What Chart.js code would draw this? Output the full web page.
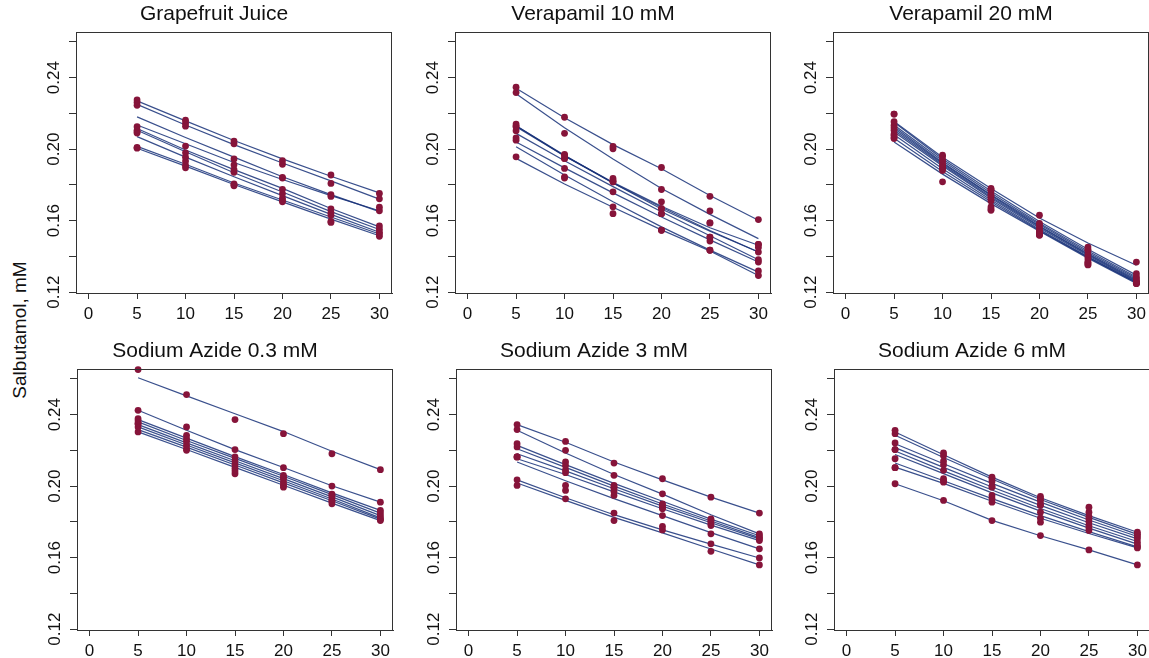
<!DOCTYPE html>
<html>
<head>
<meta charset="utf-8">
<script src="https://cdn.jsdelivr.net/npm/chart.js@4.4.0/dist/chart.umd.min.js"></script>
<style>
  body { margin: 0; background: #fff; width: 1149px; height: 658px; overflow: hidden; position: relative;
         font-family: "Liberation Sans", Arial, sans-serif; }
  canvas { position: absolute; }
  #ytitle { position: absolute; left: 20px; top: 330px; font-size: 19px; color: #111; white-space: nowrap;
            transform: translate(-50%, -50%) rotate(-90deg); }
</style>
</head>
<body>
<div id="ytitle">Salbutamol, mM</div>
<script>
'use strict';

// sampling times (x) and axis ticks
var times = [5, 10, 15, 20, 25, 30];
var xTicks = [0, 5, 10, 15, 20, 25, 30];
var yTicks = [0.12, 0.14, 0.16, 0.18, 0.20, 0.22, 0.24, 0.26];
var yLabels = ['0.12', '0.16', '0.20', '0.24'];
var titles = ['Grapefruit Juice', 'Verapamil 10 mM', 'Verapamil 20 mM',
              'Sodium Azide 0.3 mM', 'Sodium Azide 3 mM', 'Sodium Azide 6 mM'];

// Grapefruit Juice: fitted curves and observed points
var gjFit = [
  [0.227, 0.2158, 0.2048, 0.1945, 0.1848, 0.1755],
  [0.225, 0.2135, 0.2025, 0.1922, 0.1822, 0.172],
  [0.218, 0.2065, 0.1955, 0.1845, 0.1745, 0.165],
  [0.2135, 0.203, 0.1925, 0.183, 0.174, 0.1655],
  [0.2115, 0.1995, 0.1885, 0.178, 0.1668, 0.1565],
  [0.2105, 0.1985, 0.1868, 0.176, 0.165, 0.155],
  [0.207, 0.1955, 0.1845, 0.174, 0.1635, 0.1535],
  [0.2015, 0.1915, 0.181, 0.1715, 0.162, 0.1525],
  [0.2005, 0.1905, 0.1802, 0.1705, 0.1608, 0.1515]
];
var gjObs = [
  [0.2275, 0.2162, 0.2045, 0.1935, 0.1855, 0.1752],
  [0.226, 0.2145, 0.203, 0.1915, 0.1808, 0.1722],
  [0.2245, 0.2128, 0.1945, 0.1842, 0.1735, 0.1675],
  [0.2125, 0.2017, 0.1912, 0.1838, 0.1745, 0.1655],
  [0.2105, 0.1979, 0.1885, 0.1775, 0.1665, 0.157],
  [0.209, 0.1955, 0.187, 0.175, 0.1645, 0.1552],
  [0.2095, 0.1933, 0.1805, 0.1725, 0.163, 0.1535],
  [0.201, 0.191, 0.1795, 0.1712, 0.159, 0.1525],
  [0.2005, 0.1895, 0.18, 0.1705, 0.1595, 0.1512]
];

// Verapamil 10 mM
var v10Fit = [
  [0.234, 0.2175, 0.2025, 0.189, 0.174, 0.1602],
  [0.231, 0.212, 0.1945, 0.178, 0.1635, 0.1499],
  [0.213, 0.1965, 0.181, 0.1675, 0.1545, 0.1424],
  [0.2125, 0.1962, 0.1815, 0.168, 0.156, 0.1462],
  [0.2088, 0.1935, 0.179, 0.165, 0.1515, 0.1381],
  [0.204, 0.1895, 0.1755, 0.162, 0.1492, 0.1368],
  [0.2013, 0.1855, 0.1705, 0.1565, 0.1435, 0.1312],
  [0.1948, 0.1805, 0.1675, 0.1548, 0.143, 0.1293],
  [0.213, 0.1962, 0.181, 0.1665, 0.154, 0.1424]
];
var v10Obs = [
  [0.2346, 0.2178, 0.2015, 0.1897, 0.1736, 0.1606],
  [0.2316, 0.2088, 0.2002, 0.1774, 0.1654, 0.1467],
  [0.214, 0.1966, 0.1836, 0.1705, 0.1587, 0.1449],
  [0.2129, 0.1948, 0.1817, 0.1667, 0.1587, 0.1467],
  [0.2103, 0.1948, 0.1817, 0.1639, 0.1508, 0.1381],
  [0.2063, 0.1892, 0.1761, 0.1639, 0.1486, 0.1368],
  [0.205, 0.1845, 0.1677, 0.1546, 0.1434, 0.1318],
  [0.1957, 0.1838, 0.1639, 0.1546, 0.1434, 0.1293],
  [0.2125, 0.197, 0.1825, 0.1667, 0.1508, 0.1424]
];

// Verapamil 20 mM
var v20Fit = [
  [0.2155, 0.1955, 0.178, 0.1615, 0.1475, 0.135],
  [0.215, 0.1945, 0.1765, 0.1595, 0.144, 0.1295],
  [0.2135, 0.1935, 0.1755, 0.1585, 0.143, 0.1285],
  [0.2125, 0.1925, 0.1745, 0.1578, 0.1422, 0.1278],
  [0.2115, 0.192, 0.174, 0.157, 0.1415, 0.127],
  [0.2105, 0.1912, 0.1732, 0.1565, 0.141, 0.1265],
  [0.2095, 0.1905, 0.1725, 0.1558, 0.1405, 0.126],
  [0.208, 0.189, 0.1715, 0.155, 0.1398, 0.1255],
  [0.206, 0.1875, 0.1705, 0.1545, 0.1395, 0.1252],
  [0.204, 0.186, 0.1695, 0.154, 0.139, 0.1248]
];
var v20Obs = [
  [0.2196, 0.1958, 0.1775, 0.163, 0.144, 0.1368],
  [0.2196, 0.1966, 0.178, 0.1585, 0.1452, 0.1303],
  [0.2153, 0.194, 0.1765, 0.1575, 0.143, 0.1285],
  [0.2134, 0.193, 0.1745, 0.156, 0.141, 0.1275],
  [0.212, 0.1915, 0.1735, 0.1545, 0.1395, 0.1262],
  [0.2106, 0.1905, 0.1723, 0.1535, 0.138, 0.1255],
  [0.2085, 0.1895, 0.171, 0.1525, 0.1365, 0.125],
  [0.2078, 0.1892, 0.1677, 0.152, 0.1355, 0.1258],
  [0.2065, 0.1817, 0.1665, 0.1518, 0.1352, 0.1247],
  [0.2059, 0.188, 0.1658, 0.153, 0.1365, 0.125]
];

// Sodium Azide 0.3 mM
var sa03Fit = [
  [0.2606, 0.2505, 0.2405, 0.2305, 0.2195, 0.2092],
  [0.2424, 0.2312, 0.2204, 0.2104, 0.2002, 0.191],
  [0.2372, 0.2268, 0.2165, 0.2065, 0.1962, 0.1864],
  [0.2359, 0.2255, 0.2155, 0.2055, 0.1952, 0.1849],
  [0.2344, 0.2242, 0.2142, 0.2042, 0.194, 0.1835],
  [0.2331, 0.223, 0.213, 0.203, 0.1928, 0.1822],
  [0.2316, 0.2218, 0.2118, 0.2018, 0.1918, 0.1815],
  [0.2303, 0.2205, 0.2105, 0.2005, 0.1905, 0.1807]
];
var sa03Obs = [
  [0.2652, 0.2512, 0.2372, 0.2293, 0.2181, 0.2092],
  [0.2424, 0.2331, 0.2204, 0.2103, 0.2, 0.191],
  [0.2377, 0.2284, 0.2163, 0.206, 0.1948, 0.1864],
  [0.2364, 0.2265, 0.214, 0.205, 0.1955, 0.1849],
  [0.2349, 0.225, 0.212, 0.204, 0.1935, 0.1835],
  [0.2349, 0.2228, 0.21, 0.202, 0.192, 0.1822],
  [0.233, 0.221, 0.2085, 0.2005, 0.1915, 0.1815],
  [0.2303, 0.22, 0.2069, 0.1994, 0.1901, 0.1807]
];

// Sodium Azide 3 mM
var sa3Fit = [
  [0.2344, 0.2245, 0.2135, 0.2035, 0.1938, 0.1849],
  [0.2312, 0.2185, 0.2065, 0.1955, 0.184, 0.1733],
  [0.2228, 0.212, 0.2015, 0.1915, 0.1815, 0.1722],
  [0.2209, 0.2105, 0.2, 0.19, 0.1805, 0.1712],
  [0.2181, 0.2085, 0.1985, 0.1888, 0.1795, 0.1705],
  [0.2153, 0.2065, 0.1968, 0.1873, 0.1782, 0.1695],
  [0.2135, 0.203, 0.193, 0.1835, 0.174, 0.1649],
  [0.2035, 0.1935, 0.184, 0.1755, 0.1675, 0.1598],
  [0.2017, 0.192, 0.1825, 0.1738, 0.1648, 0.1559]
];
var sa3Obs = [
  [0.2344, 0.225, 0.2129, 0.2041, 0.1938, 0.1849],
  [0.2316, 0.22, 0.206, 0.1957, 0.1817, 0.1733],
  [0.2237, 0.2135, 0.2004, 0.1901, 0.181, 0.1722],
  [0.2219, 0.2115, 0.1995, 0.189, 0.18, 0.1712],
  [0.2163, 0.209, 0.1985, 0.188, 0.179, 0.1705],
  [0.2163, 0.2075, 0.197, 0.1873, 0.1779, 0.1695],
  [0.2163, 0.2004, 0.1948, 0.1835, 0.1733, 0.1649],
  [0.2035, 0.1976, 0.1849, 0.1774, 0.1677, 0.1598],
  [0.2004, 0.1929, 0.1807, 0.1755, 0.1635, 0.1559]
];

// Sodium Azide 6 mM
var sa6Fit = [
  [0.2303, 0.2175, 0.205, 0.1935, 0.1835, 0.1742],
  [0.2284, 0.216, 0.204, 0.1925, 0.1825, 0.173],
  [0.2237, 0.2125, 0.2015, 0.191, 0.181, 0.1718],
  [0.2215, 0.2105, 0.1995, 0.1892, 0.1795, 0.1705],
  [0.2196, 0.2085, 0.1978, 0.1875, 0.1778, 0.169],
  [0.2177, 0.207, 0.1962, 0.186, 0.1765, 0.1675],
  [0.2129, 0.203, 0.193, 0.1835, 0.1745, 0.166],
  [0.2106, 0.2015, 0.1915, 0.182, 0.1735, 0.1654],
  [0.2013, 0.1918, 0.1808, 0.1722, 0.1643, 0.1559]
];
var sa6Obs = [
  [0.2312, 0.2185, 0.205, 0.1942, 0.1882, 0.1742],
  [0.2293, 0.217, 0.204, 0.193, 0.1854, 0.173],
  [0.2241, 0.214, 0.2025, 0.192, 0.183, 0.1718],
  [0.2204, 0.212, 0.2, 0.19, 0.1817, 0.1705],
  [0.2204, 0.2088, 0.1994, 0.1892, 0.18, 0.1686],
  [0.2153, 0.2041, 0.1948, 0.1854, 0.178, 0.167],
  [0.2103, 0.203, 0.193, 0.182, 0.1765, 0.1654],
  [0.2103, 0.2022, 0.191, 0.1798, 0.1751, 0.166],
  [0.2013, 0.192, 0.1807, 0.1723, 0.1643, 0.1559]
];

var fits = [gjFit, v10Fit, v20Fit, sa03Fit, sa3Fit, sa6Fit];
var obs = [gjObs, v10Obs, v20Obs, sa03Obs, sa3Obs, sa6Obs];

// layout: plot box top-left corner of each panel
var boxes = [[76, 32], [455, 32], [833, 32], [77, 369], [456, 369], [834, 369]];
var boxW = 316, boxH = 261;
var yAxisW = 40, topPad = 32, xAxisH = 34, rightPad = 12;

var lineColor = 'rgba(22, 48, 120, 0.85)';
var dotColor = '#86143a';
var FONT = '"Liberation Sans", Arial, sans-serif';

function toXY(vals) {
  return vals.map(function (v, i) { return {x: times[i], y: v}; });
}

var panelDecor = {
  id: 'panelDecor',
  afterDraw: function (chart) {
    var c = chart.ctx, a = chart.chartArea, ys = chart.scales.y;
    c.save();
    c.strokeStyle = '#333';
    c.lineWidth = 1;
    c.strokeRect(a.left + 0.5, a.top + 0.5, a.right - a.left - 1, a.bottom - a.top);
    c.fillStyle = '#111';
    c.font = '17px ' + FONT;
    c.textAlign = 'center';
    c.textBaseline = 'middle';
    yLabels.forEach(function (t) {
      var y = ys.getPixelForValue(parseFloat(t));
      c.save();
      c.translate(a.left - 22, y);
      c.rotate(-Math.PI / 2);
      c.fillText(t, 0, 0);
      c.restore();
    });
    c.font = '21px ' + FONT;
    c.fillText(chart.options.plugins.panelDecor.title, (a.left + a.right) / 2 - 20, a.top - 18);
    c.restore();
  }
};

boxes.forEach(function (b, p) {
  var cv = document.createElement('canvas');
  cv.width = yAxisW + boxW + rightPad;
  cv.height = topPad + boxH + xAxisH;
  cv.style.left = (b[0] - yAxisW) + 'px';
  cv.style.top = (b[1] - topPad) + 'px';
  document.body.appendChild(cv);

  var datasets = [];
  fits[p].forEach(function (f) {
    datasets.push({data: toXY(f), showLine: true, borderColor: lineColor, borderWidth: 1.2,
                   pointRadius: 0, order: 2});
  });
  obs[p].forEach(function (o) {
    datasets.push({data: toXY(o), showLine: false, backgroundColor: dotColor, borderWidth: 0,
                   pointRadius: 3.4, order: 1, clip: false});
  });

  new Chart(cv, {
    type: 'scatter',
    data: {datasets: datasets},
    options: {
      responsive: false,
      animation: false,
      layout: {padding: {top: topPad, right: rightPad, left: 0, bottom: 0}},
      plugins: {legend: {display: false}, tooltip: {enabled: false}, panelDecor: {title: titles[p]}},
      scales: {
        x: {
          type: 'linear', min: -1.3, max: 31.3,
          afterBuildTicks: function (s) { s.ticks = xTicks.map(function (v) { return {value: v}; }); },
          afterFit: function (s) { s.height = xAxisH; },
          ticks: {color: '#111', font: {family: FONT, size: 17}, padding: 5, maxRotation: 0, autoSkip: false},
          grid: {drawOnChartArea: false, tickLength: 6, color: '#333'},
          border: {color: '#333'}
        },
        y: {
          type: 'linear', min: 0.1195, max: 0.2655,
          afterBuildTicks: function (s) { s.ticks = yTicks.map(function (v) { return {value: v}; }); },
          afterFit: function (s) { s.width = yAxisW; },
          ticks: {display: false},
          grid: {drawOnChartArea: false, tickLength: 7, color: '#333'},
          border: {color: '#333'}
        }
      }
    },
    plugins: [panelDecor]
  });
});
</script>
</body>
</html>
